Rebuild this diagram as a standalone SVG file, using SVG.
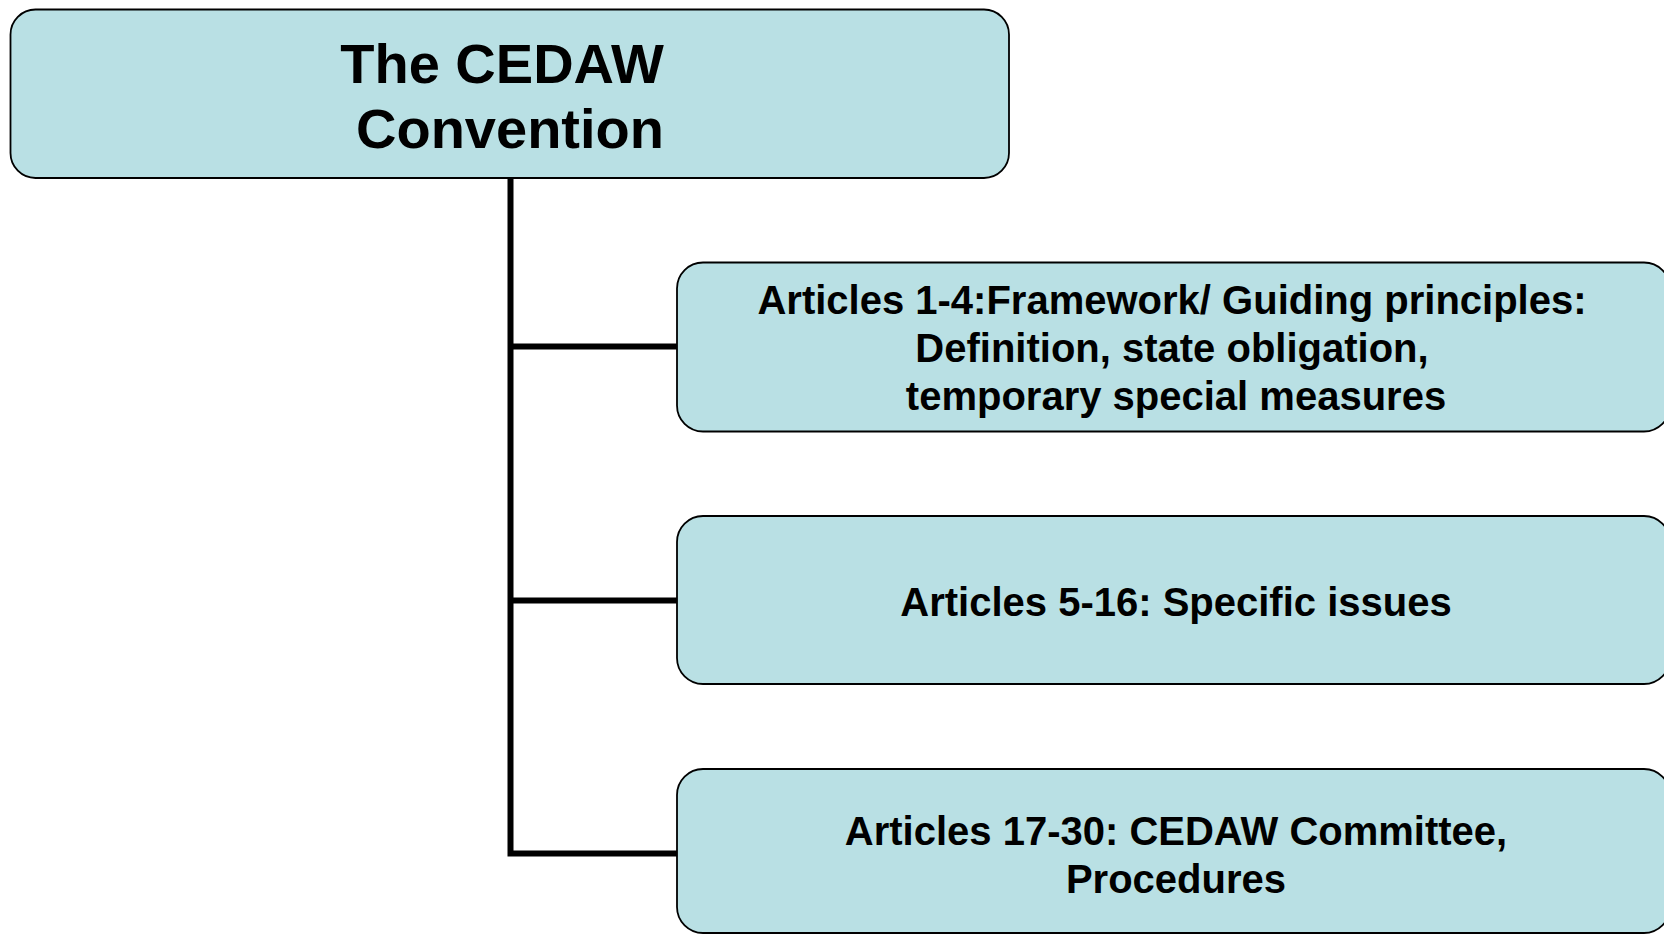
<svg xmlns="http://www.w3.org/2000/svg" width="1664" height="934" viewBox="0 0 1664 934">
<style>
.box{fill:#B9E0E4;stroke:#000;stroke-width:1.8}
.conn{fill:none;stroke:#000;stroke-width:6;stroke-linejoin:miter}
text{font-family:"Liberation Sans",Arial,sans-serif;font-weight:bold;fill:#000;text-anchor:middle}
.t1{font-size:56px}
.t2{font-size:40px}
</style>
<rect width="1664" height="934" fill="#fff"/>
<g id="connectors">
<path class="conn" d="M510.5 178 V853.5 H677"/>
<path class="conn" d="M510.5 346.5 H677"/>
<path class="conn" d="M510.5 600.5 H677"/>
</g>
<g id="root">
<rect class="box" x="10.5" y="9.5" width="998.5" height="168.5" rx="25" ry="25"/>
<text class="t1" x="502" y="83">The CEDAW</text>
<text class="t1" x="510" y="147.5">Convention</text>
</g>
<g id="articles-1-4">
<rect class="box" x="677" y="262.5" width="993" height="169" rx="26" ry="26"/>
<text class="t2" x="1172" y="314">Articles 1-4:Framework/ Guiding principles:</text>
<text class="t2" x="1172" y="362">Definition, state obligation,</text>
<text class="t2" x="1176" y="410">temporary special measures</text>
</g>
<g id="articles-5-16">
<rect class="box" x="677" y="516" width="993" height="168" rx="26" ry="26"/>
<text class="t2" x="1176" y="616">Articles 5-16: Specific issues</text>
</g>
<g id="articles-17-30">
<rect class="box" x="677" y="769" width="993" height="164" rx="26" ry="26"/>
<text class="t2" x="1176" y="845">Articles 17-30: CEDAW Committee,</text>
<text class="t2" x="1176" y="893">Procedures</text>
</g>
</svg>
